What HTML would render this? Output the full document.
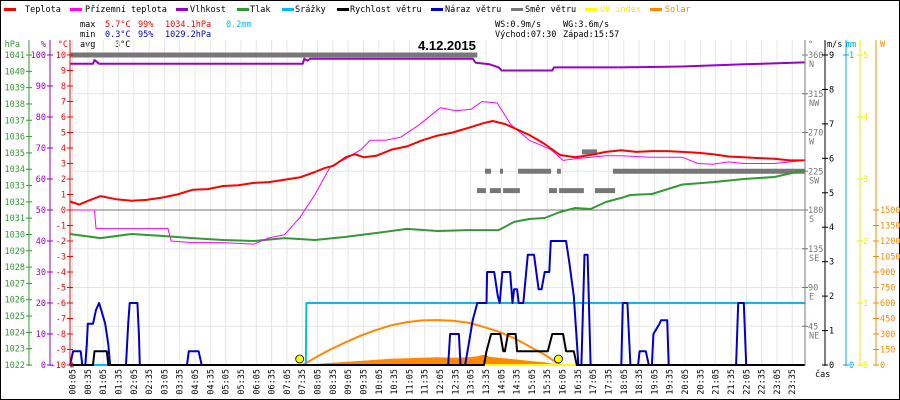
<!DOCTYPE html>
<html><head><meta charset="utf-8"><style>
html,body{margin:0;padding:0;background:#fff;width:900px;height:400px;overflow:hidden}
svg{display:block;font-family:"DejaVu Sans Mono","Liberation Mono",monospace;font-size:8.5px}
</style></head><body>
<svg id="chart" width="900" height="400" viewBox="0 0 900 400" xmlns="http://www.w3.org/2000/svg">
<rect x="0.5" y="0.5" width="899" height="399" fill="#fff" stroke="#000"/>
<g>
<g><rect x="4" y="8" width="12" height="3" fill="#f00"/><text x="25" y="12">Teplota</text></g>
<g><rect x="70" y="8" width="12" height="3" fill="#f0f"/><text x="85" y="12">Přízemní teplota</text></g>
<g><rect x="176" y="8" width="12" height="3" fill="#90c"/><text x="190" y="12">Vlhkost</text></g>
<g><rect x="237" y="8" width="12" height="3" fill="#393"/><text x="250" y="12">Tlak</text></g>
<g><rect x="282" y="8" width="12" height="3" fill="#0bf"/><text x="295" y="12">Srážky</text></g>
<g><rect x="337" y="8" width="12" height="3" fill="#000"/><text x="350" y="12">Rychlost větru</text></g>
<g><rect x="431" y="8" width="12" height="3" fill="#00c"/><text x="445" y="12">Náraz větru</text></g>
<g><rect x="511" y="8" width="12" height="3" fill="#777"/><text x="525" y="12">Směr větru</text></g>
<g><rect x="585" y="8" width="12" height="3" fill="#ff0"/><text x="600" y="12" fill="#ee0">UV index</text></g>
<g><rect x="650" y="8" width="12" height="3" fill="#f80"/><text x="665" y="12" fill="#f80">Solar</text></g>
</g>
<g>
<text x="80" y="27">max</text><text x="105" y="27" fill="#f00">5.7°C</text><text x="138" y="27" fill="#f00">99%</text><text x="165" y="27" fill="#f00">1034.1hPa</text><text x="226" y="27" fill="#0bf">0.2mm</text>
<text x="80" y="37">min</text><text x="105" y="37" fill="#00c">0.3°C</text><text x="138" y="37" fill="#00c">95%</text><text x="165" y="37" fill="#00c">1029.2hPa</text>
<text x="80" y="47">avg</text><text x="115" y="47">3°C</text>
<text x="495" y="27">WS:0.9m/s</text><text x="563" y="27">WG:3.6m/s</text>
<text x="495" y="37">Východ:07:30</text><text x="563" y="37">Západ:15:57</text>
</g>
<g id="grid"></g>
<g id="series"></g>
<g id="axes"></g>
<text x="418" y="50" font-family="Liberation Sans, sans-serif" font-weight="bold" font-size="13">4.12.2015</text>
</svg>
<script>
// ---- data ----
const tempH = [0,0.3,0.6,1,1.5,2,2.5,3,3.5,4,4.5,5,5.5,6,6.5,7,7.5,8,8.3,8.6,9,9.3,9.6,10,10.5,11,11.5,12,12.5,13,13.5,13.8,14.2,14.6,15,15.5,16,16.5,17,17.5,18,18.5,19,19.5,20,20.5,21,21.5,22,22.5,23,23.5,24];
const tempV = [0.55,0.35,0.6,0.9,0.7,0.6,0.65,0.8,1.0,1.3,1.35,1.55,1.6,1.75,1.8,1.95,2.1,2.45,2.7,2.85,3.4,3.6,3.4,3.5,3.9,4.1,4.5,4.8,5.0,5.3,5.6,5.74,5.55,5.2,4.84,4.26,3.55,3.4,3.55,3.75,3.85,3.75,3.8,3.8,3.75,3.7,3.6,3.45,3.4,3.35,3.3,3.2,3.2];
const appH = [0,0.8,0.85,3.2,3.3,4,5,6,6.5,7,7.5,8,8.5,9,9.5,9.8,10.3,10.8,11.4,12.1,12.6,13.1,13.45,13.95,14.4,15,15.7,16.1,16.5,17,17.5,18,19,20,20.5,21,21.5,22,23,24];
const appV = [0,0,-1.2,-1.2,-2.0,-2.1,-2.1,-2.2,-1.8,-1.6,-0.5,1.0,2.8,3.3,3.9,4.5,4.5,4.7,5.5,6.6,6.4,6.5,7.0,6.9,5.5,4.5,3.9,3.2,3.3,3.4,3.5,3.5,3.4,3.4,3.0,2.95,3.1,3.0,3.0,3.2];
const humH = [0,0.75,0.8,0.95,7.6,7.65,7.75,7.85,13.15,13.25,13.7,14.0,14.1,15.75,15.8,17,18,20,22,24];
const humV = [97.2,97.2,98.4,97.2,97.2,98.8,98.2,98.8,98.8,97.5,97,96,95,95,96,96,96,96.3,97,97.6];
const presH = [0,1,2,3,4,5,6,7,8,9,10,11,12,13,14,14.5,15,15.5,16,16.5,17,17.5,18,18.3,19,20,21,22,23,24];
const presV = [1030.03,1029.78,1030.03,1029.91,1029.78,1029.66,1029.60,1029.78,1029.66,1029.85,1030.09,1030.34,1030.21,1030.27,1030.27,1030.77,1030.95,1031.01,1031.38,1031.62,1031.56,1031.99,1032.24,1032.42,1032.48,1033.06,1033.21,1033.40,1033.52,1033.95];
const rainH = [0,7.7,7.72,24];
const rainV = [0,0,0.2,0.2];
const windH = [0,0.75,0.8,1.2,1.25,13.52,13.6,13.75,14.05,14.15,14.2,14.3,14.55,14.6,15.6,15.75,16.1,16.2,16.45,16.55,24];
const windV = [0,0,0.4,0.4,0,0,0.4,0.9,0.9,0.4,0.4,0.9,0.9,0.4,0.4,0.9,0.9,0.4,0.4,0,0];
const gustH = [0,0.1,0.35,0.4,0.5,0.55,0.58,0.75,0.85,0.95,1.02,1.15,1.25,1.31,1.83,1.9,1.95,2.2,2.25,2.28,3.82,3.88,4.2,4.3,12.35,12.41,12.7,12.75,12.9,13.0,13.15,13.3,13.6,13.62,13.85,13.97,14.03,14.12,14.37,14.45,14.5,14.6,14.65,14.8,14.95,15.15,15.3,15.4,15.5,15.65,15.7,16.2,16.3,16.45,16.6,16.7,16.8,16.9,17.0,18.0,18.05,18.2,18.3,18.55,18.6,18.8,18.9,19.0,19.05,19.25,19.3,19.5,19.55,21.75,21.82,22.0,22.08,24];
const gustV = [0,0.4,0.4,0,0,0.6,1.2,1.2,1.6,1.8,1.6,1.2,0.6,0,0,1.2,1.8,1.8,0.9,0,0,0.4,0.4,0,0,0.9,0.9,0,0,0.5,1.3,1.8,1.8,2.7,2.7,2.0,1.8,2.7,2.7,1.8,2.2,2.2,1.8,1.8,3.2,3.2,2.2,2.2,2.7,2.7,3.6,3.6,3.0,2.0,0,0,3.2,3.2,0,0,1.8,1.8,0,0,0.4,0.4,0,0,0.9,1.2,1.3,1.3,0,0,1.8,1.8,0,0];
const dirStart = [0,0,13.55,14.04,14.63,15.9,17.73,13.29,13.71,14.14,15.64,15.97,17.14,16.72];
const dirEnd = [13.3,0.12,13.75,14.14,15.71,16.03,24,13.58,14.07,14.69,15.9,16.78,17.8,17.21];
const dirDeg = [360,0,225,225,225,225,225,202.5,202.5,202.5,202.5,202.5,202.5,247.5];
const clearH = [7.6,8,8.5,9,9.5,10,10.5,11,11.5,12,12.5,13,13.5,14,14.5,15,15.5,16.0];
const clearV = [0,70,150,220,285,340,385,415,432,435,428,410,370,322,260,180,100,0];
const solarH = [7.5,8,8.5,9,9.5,10,10.5,11,11.5,12,12.5,13,13.3,13.5,13.7,14,14.5,15,15.5,16];
const solarV = [0,10,20,30,40,50,60,65,70,75,70,75,85,100,80,70,55,40,25,0];
const sunEvents = [7.5, 15.95];
const hpaTicks = [1022,1023,1024,1025,1026,1027,1028,1029,1030,1031,1032,1033,1034,1035,1036,1037,1038,1039,1040,1041];
const humTicks = [0,10,20,30,40,50,60,70,80,90,100];
const tempTicks = [-10,-9,-8,-7,-6,-5,-4,-3,-2,-1,0,1,2,3,4,5,6,7,8,9,10];
const dirTicks = [45,90,135,180,225,270,315,360];
const dirNames = ["NE","E","SE","S","SW","W","NW","N"];
const msTicks = [0,1,2,3,4,5,6,7,8,9];
const mmTicks = [0,1];
const uvTicks = [0,1,2,3,4,5];
const wTicks = [0,150,300,450,600,750,900,1050,1200,1350,1500];

// ---- scales ----
const X = h => 70 + h * 735 / 24;
const YT = t => 210 - t * 15.5;
const YH = v => 365 - v * 3.1;
const YP = p => 365 - (p - 1022) * 310 / 19;
const YD = d => 365 - d * 310 / 360;
const YW = v => 365 - v * 310 / 9;
const YM = m => 365 - m * 310;
const YU = u => 365 - u * 62;
const YS = w => 365 - w * 310 / 3000;

const NS = 'http://www.w3.org/2000/svg';
function mk(tag, parent, attrs) {
  const e = document.createElementNS(NS, tag);
  for (const k in attrs) e.setAttribute(k, attrs[k]);
  parent.appendChild(e);
  return e;
}
const grid = document.getElementById('grid');
const series = document.getElementById('series');
const axes = document.getElementById('axes');

for (let k = 0; k < 48; k++) {
  const m = 5 + 30 * k;
  const x = X(m / 60);
  const gl = mk('line', grid, {x1: x, x2: x, y1: 40, y2: 365, stroke: '#e6e6e6', 'stroke-width': 1});
  
  
  const hh = String(Math.floor(m / 60)).padStart(2, '0');
  const mm = String(m % 60).padStart(2, '0');
  const t = mk('text', axes, {x: x + 3, y: 369, transform: `rotate(-90 ${x + 3} 369)`, 'text-anchor': 'end', 'font-size': '8.5'});
  t.textContent = hh + ':' + mm;
  
  
}
dirTicks.forEach(d => {
  if (d === 180 || d === 360) return;
  const l = mk('line', grid, {x1: 70, x2: 805, y1: YD(d), y2: YD(d), stroke: '#e6e6e6'});
  
  
});
const zl = mk('line', grid, {x1: 70, x2: 805, y1: 210, y2: 210, stroke: '#777'});



function pts(hs, vs, fy) { return hs.map((h, i) => X(h).toFixed(1) + ',' + fy(vs[i]).toFixed(1)).join(' '); }
function line(hs, vs, fy, color, w, name) {
  const p = mk('polyline', series, {points: pts(hs, vs, fy), fill: 'none', stroke: color, 'stroke-width': w, 'stroke-linejoin': 'round'});
  
  
  return p;
}

const sp = mk('polygon', series, {points: X(solarH[0]) + ',365 ' + pts(solarH, solarV, YS) + ' ' + X(solarH[solarH.length - 1]) + ',365', fill: '#f80'});


line(clearH, clearV, YS, '#f80', 2, 'solar-clear-sky-line');
const uv = mk('line', series, {x1: 70, x2: 805, y1: YU(0), y2: YU(0), stroke: '#ff0', 'stroke-width': 2});


dirDeg.forEach((d, i) => {
  const r = mk('rect', series, {x: X(dirStart[i]), y: YD(d) - 2.5, width: Math.max(2, X(dirEnd[i]) - X(dirStart[i])), height: 5, fill: '#777'});
  
  
});
line(presH, presV, YP, '#393', 2, 'pressure-line');
line(rainH, rainV, YM, '#0bf', 2, 'precipitation-line');
line(gustH, gustV, YW, '#00c', 2, 'wind-gust-line');
line(windH, windV, YW, '#000', 2, 'wind-speed-line');
line(humH, humV, YH, '#90c', 2, 'humidity-line');
line(appH, appV, YT, '#f0f', 1, 'apparent-temperature-line');
line(tempH, tempV, YT, '#f00', 2, 'temperature-line');
sunEvents.forEach(h => {
  const c = mk('circle', series, {cx: X(h), cy: 359, r: 4, fill: '#ff0', stroke: '#000', 'stroke-width': 0.8});
  
  
});

function axis(x, color, ticks, fy, labelX, anchor, name, title, titleX, fmt) {
  const g = mk('g', axes, {fill: color});
  
  
  mk('line', g, {x1: x, x2: x, y1: 40, y2: 366, stroke: color, 'stroke-width': 1});
  ticks.forEach((v, i) => {
    const y = fy(v);
    mk('line', g, {x1: x - 3, x2: x + 3, y1: y, y2: y, stroke: color});
    const t = mk('text', g, {x: labelX, y: y + 3, 'text-anchor': anchor});
    t.textContent = fmt ? fmt(v, i) : v;
  });
  const tt = mk('text', g, {x: titleX, y: 47, 'text-anchor': anchor});
  tt.textContent = title;
  return g;
}
axis(29, '#393', hpaTicks, YP, 25, 'end', 'pressure-axis', 'hPa', 20);
axis(50, '#90c', humTicks, YH, 46, 'end', 'humidity-axis', '%', 46);
axis(70, '#f00', tempTicks, YT, 66, 'end', 'temperature-axis', '°C', 68);
const dg = axis(805, '#777', dirTicks, YD, 808, 'start', 'direction-axis', '°', 808);
dirTicks.forEach((d, i) => {
  const t = mk('text', dg, {x: 809, y: YD(d) + 12});
  t.textContent = dirNames[i];
});
axis(825, '#000', msTicks, YW, 829, 'start', 'wind-speed-axis', 'm/s', 827);
axis(846, '#0ae', mmTicks, YM, 849, 'start', 'precipitation-axis', 'mm', 846);
axis(860, '#ee0', uvTicks, YU, 863, 'start', 'uv-axis', '', 863);
axis(876, '#f80', wTicks, YS, 880, 'start', 'solar-axis', 'W', 880);
const cas = mk('text', axes, {x: 815, y: 377});
cas.textContent = 'čas';


</script>
</body></html>
